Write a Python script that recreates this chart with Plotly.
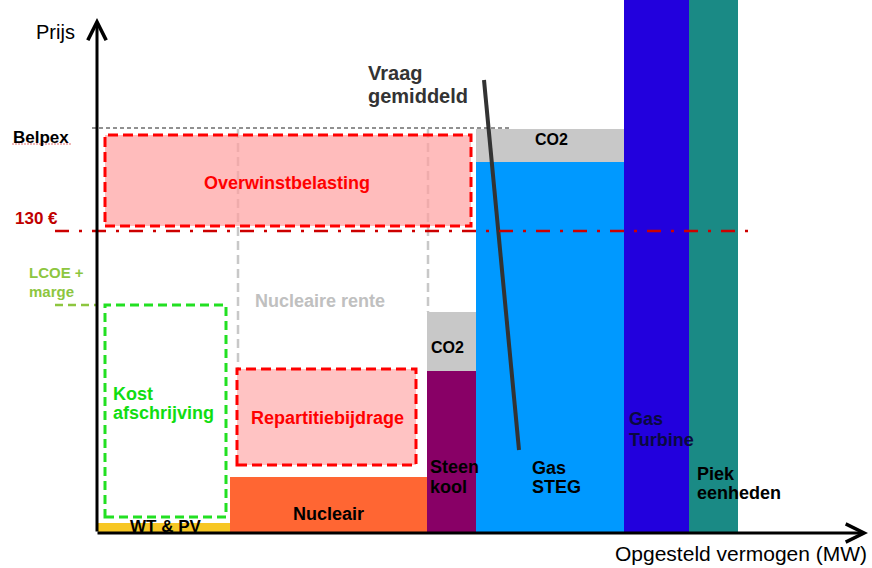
import plotly.graph_objects as go

# ---- data (capacity widths in MW-units, marginal price levels in price-units) ----
techs = ["WT & PV", "Nucleair", "Steenkool", "Gas STEG", "Gas Turbine", "Piek eenheden"]
capacity = [132, 197, 49, 148, 65, 49]
fuel_cost = [10, 56, 162, 371, 560, 560]
co2_cost = [0, 0, 59, 33, 0, 0]
bar_colors = ["#F7C724", "#FF6633", "#880066", "#0099FF", "#2200DD", "#1A8A85"]

belpex = 404
cap_130 = 302
lcoe = 228
demand_x = [386, 421]
demand_y = [453, 83]

# derived positions
starts = [sum(capacity[:i]) for i in range(len(capacity))]
centers = [s + w / 2 for s, w in zip(starts, capacity)]
tops = [f + c for f, c in zip(fuel_cost, co2_cost)]

fig = go.Figure()
fig.add_trace(go.Bar(x=centers, y=fuel_cost, width=capacity, marker=dict(color=bar_colors, line=dict(width=0)),
                     showlegend=False, hoverinfo="skip"))
fig.add_trace(go.Bar(x=centers, y=co2_cost, base=fuel_cost, width=capacity,
                     marker=dict(color="#C8C8C8", line=dict(width=0)), showlegend=False, hoverinfo="skip"))

FONT = "Arial, Liberation Sans, sans-serif"
RED = "#FF0000"

shapes = []
# Belpex line
shapes.append(dict(type="line", x0=-6, x1=412, y0=belpex + 1, y1=belpex + 1, line=dict(color="#222222", width=1, dash="4px,3px")))
# spell-check squiggle under "Belpex"
shapes.append(dict(type="line", x0=-86, x1=-27, y0=389, y1=389, line=dict(color="#E07070", width=1, dash="2px,1px")))
# grey dashed nuclear rent lines
shapes.append(dict(type="line", x0=starts[1] + 8, x1=starts[1] + 8, y0=belpex, y1=fuel_cost[1] + 108, line=dict(color="#C8C8C8", width=2.5, dash="9px,5px")))
shapes.append(dict(type="line", x0=starts[2] + 1, x1=starts[2] + 1, y0=belpex, y1=tops[2], line=dict(color="#C8C8C8", width=2.5, dash="9px,5px")))
# Overwinstbelasting box
shapes.append(dict(type="rect", x0=7, x1=373, y0=cap_130 + 5, y1=belpex - 6, fillcolor="rgba(255,160,160,0.7)",
                   line=dict(color=RED, width=3, dash="10px,5px"), layer="above"))
# Repartitiebijdrage box
shapes.append(dict(type="rect", x0=139, x1=318, y0=fuel_cost[1] + 12, y1=fuel_cost[1] + 108, fillcolor="rgba(255,170,170,0.7)",
                   line=dict(color=RED, width=3, dash="10px,5px"), layer="above"))
# Kost afschrijving box
shapes.append(dict(type="rect", x0=7, x1=128, y0=16, y1=lcoe, fillcolor="rgba(0,0,0,0)",
                   line=dict(color="#22E022", width=3, dash="9px,5px"), layer="above"))
# 130 EUR line
shapes.append(dict(type="line", x0=-43, x1=650, y0=cap_130, y1=cap_130, line=dict(color="#CC0000", width=2.5, dash="14px,10px,3px,10px"), layer="above"))
# LCOE line
shapes.append(dict(type="line", x0=-43, x1=-2, y0=lcoe, y1=lcoe, line=dict(color="#8DC63F", width=2.5, dash="8px,5px")))

fig.add_trace(go.Scatter(x=demand_x, y=demand_y, mode="lines", line=dict(color="#333333", width=4),
                         showlegend=False, hoverinfo="skip"))

ann = []
# axes arrows
ann.append(dict(x=-1, y=515, ax=-1, ay=0, xref="x", yref="y", axref="x", ayref="y", text="", showarrow=True,
                arrowhead=5, arrowsize=1.2, arrowwidth=3, arrowcolor="black"))
ann.append(dict(x=770, y=0, ax=-2, ay=0, xref="x", yref="y", axref="x", ayref="y", text="", showarrow=True,
                arrowhead=5, arrowsize=1.2, arrowwidth=3, arrowcolor="black"))


def txt(x, y, t, color="black", size=18, bold=True, xanchor="left"):
    ann.append(dict(x=x, y=y, xref="x", yref="y", text=(f"<b>{t}</b>" if bold else t), showarrow=False,
                    xanchor=xanchor, yanchor="middle", align="left", borderpad=0,
                    font=dict(family=FONT, size=size, color=color)))


def txt2(x, ys, lines, **kw):
    for y, t in zip(ys, lines):
        txt(x, y, t, **kw)


txt(-43, 501, "Prijs", size=20, bold=False, xanchor="center")
txt(-86, 396, "Belpex", size=17)
txt(-84, 315, "130 €", color="#C00000", size=17)
txt2(-70, [261, 242], ["LCOE +", "marge"], color="#8DC63F", size=15)
txt(189, 350, "Overwinstbelasting", color=RED, size=18, xanchor="center")
txt(222, 232, "Nucleaire rente", color="#C0C0C0", size=18, xanchor="center")
txt2(14, [139, 120], ["Kost", "afschrijving"], color="#11DD11", size=18)
txt(229, 115, "Repartitiebijdrage", color=RED, size=18, xanchor="center")
txt(67, 7, "WT & PV", size=17, xanchor="center")
txt(230, 19, "Nucleair", size=18, xanchor="center")
txt(349, 186, "CO2", size=16, xanchor="center")
txt(453, 394, "CO2", size=16, xanchor="center")
txt2(331, [66, 46], ["Steen", "kool"], size=18)
txt2(433, [65, 46], ["Gas", "STEG"], size=18)
txt2(530, [114, 93], ["Gas", "Turbine"], color="#0A0A40", size=18)
txt2(598, [59, 40], ["Piek", "eenheden"], size=18)
txt2(269, [460, 437], ["Vraag", "gemiddeld"], color="#333333", size=20)
txt(770, -20, "Opgesteld vermogen (MW)", size=21, bold=False, xanchor="right")

fig.update_layout(
    width=872, height=568, margin=dict(l=0, r=0, t=0, b=0),
    paper_bgcolor="white", plot_bgcolor="white",
    xaxis=dict(range=[-98, 774], visible=False, fixedrange=True),
    yaxis=dict(range=[-35, 533], visible=False, fixedrange=True),
    shapes=shapes, annotations=ann, bargap=0, barmode="overlay",
)
fig.write_html("out.html", config={"displayModeBar": False},
               post_script="document.body.style.margin='0';document.body.style.overflow='hidden';")
